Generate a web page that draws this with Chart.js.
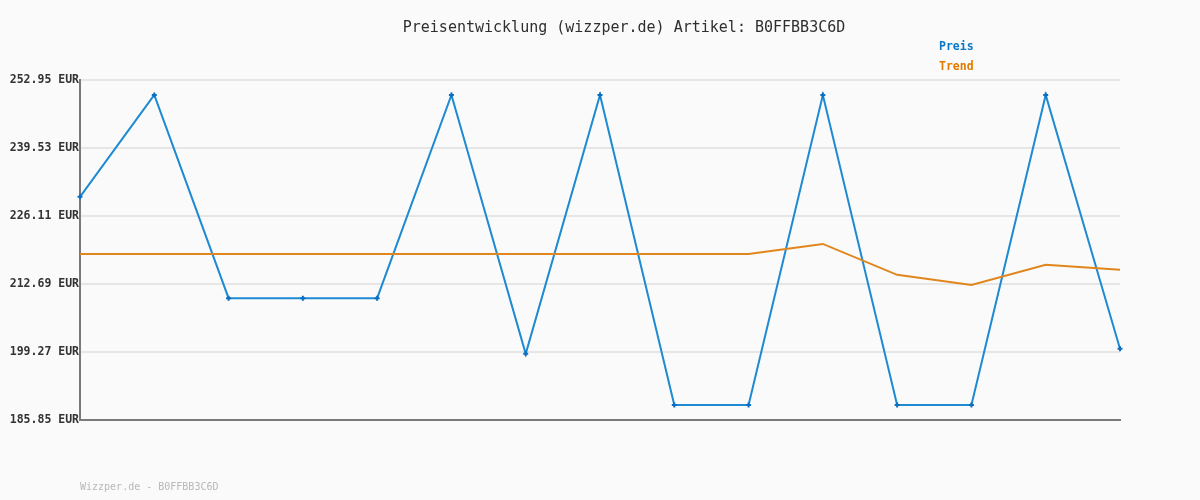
<!DOCTYPE html>
<html>
<head>
<meta charset="utf-8">
<script src="https://cdn.jsdelivr.net/npm/chart.js@4/dist/chart.umd.min.js"></script>
<style>
  html, body { margin: 0; padding: 0; background: #fafafa; }
  #wrap { width: 1200px; height: 500px; }
</style>
</head>
<body>
<div id="wrap"><canvas id="chart" width="1200" height="500"></canvas></div>
<script>
const labels = ["1", "2", "3", "4", "5", "6", "7", "8", "9", "10", "11", "12", "13", "14", "15"];
const preis = [229.9, 250.0, 209.9, 209.9, 209.9, 250.0, 198.9, 250.0, 188.8, 188.8, 250.0, 188.8, 188.8, 250.0, 199.9];
const trend = [218.6, 218.6, 218.6, 218.6, 218.6, 218.6, 218.6, 218.6, 218.6, 218.6, 220.6, 214.5, 212.5, 216.5, 215.5];
const yTicks = [185.85, 199.27, 212.69, 226.11, 239.53, 252.95];

const mono = "'DejaVu Sans Mono', 'Liberation Mono', monospace";

// title, legend and footer are drawn straight onto the canvas
const textPlugin = {
  id: "texts",
  afterDraw(chart) {
    const ctx = chart.ctx;
    ctx.save();
    ctx.textBaseline = "middle";
    ctx.font = "15px " + mono;
    ctx.fillStyle = "#2e2e2e";
    ctx.textAlign = "center";
    ctx.fillText("Preisentwicklung (wizzper.de) Artikel: B0FFBB3C6D", 624, 28);
    ctx.textAlign = "left";
    ctx.font = "bold 11.5px " + mono;
    ctx.fillStyle = "#0a78c8";
    ctx.fillText("Preis", 939, 47);
    ctx.fillStyle = "#e07b00";
    ctx.fillText("Trend", 939, 67);
    ctx.font = "10px " + mono;
    ctx.fillStyle = "#b8b8b8";
    ctx.fillText("Wizzper.de - B0FFBB3C6D", 80, 487);
    ctx.restore();
  }
};

new Chart(document.getElementById("chart"), {
  type: "line",
  data: {
    labels: labels,
    datasets: [
      {
        label: "Trend",
        data: trend,
        borderColor: "#e0861c",
        borderWidth: 2,
        pointRadius: 0,
        tension: 0,
      },
      {
        label: "Preis",
        data: preis,
        borderColor: "#1e8ad2",
        borderWidth: 2,
        pointStyle: "cross",
        pointRadius: 2.5,
        pointBorderWidth: 2,
        pointBorderColor: "#0a6fc0",
        tension: 0,
      },
    ],
  },
  options: {
    responsive: false,
    animation: false,
    layout: { padding: { top: 80, left: 0, right: 80, bottom: 0 } },
    plugins: {
      legend: { display: false },
      title: { display: false },
      tooltip: { enabled: false },
    },
    scales: {
      x: {
        offset: false,
        ticks: { display: false },
        grid: { display: false },
        border: { display: true, color: "#7a7a7a", width: 2 },
        afterFit(axis) { axis.height = 80; },
      },
      y: {
        min: 185.85,
        max: 252.95,
        afterBuildTicks(axis) {
          axis.ticks = yTicks.map((v) => ({ value: v }));
        },
        afterFit(axis) { axis.width = 80; },
        ticks: {
          padding: 1,
          color: "#333333",
          font: { family: mono, size: 11.5, weight: "bold" },
          callback: (v) => Number(v).toFixed(2) + " EUR",
        },
        grid: { color: "#e6e6e6", lineWidth: 2, drawTicks: false },
        border: { display: true, color: "#7a7a7a", width: 2 },
      },
    },
  },
  plugins: [textPlugin],
});
</script>
</body>
</html>
